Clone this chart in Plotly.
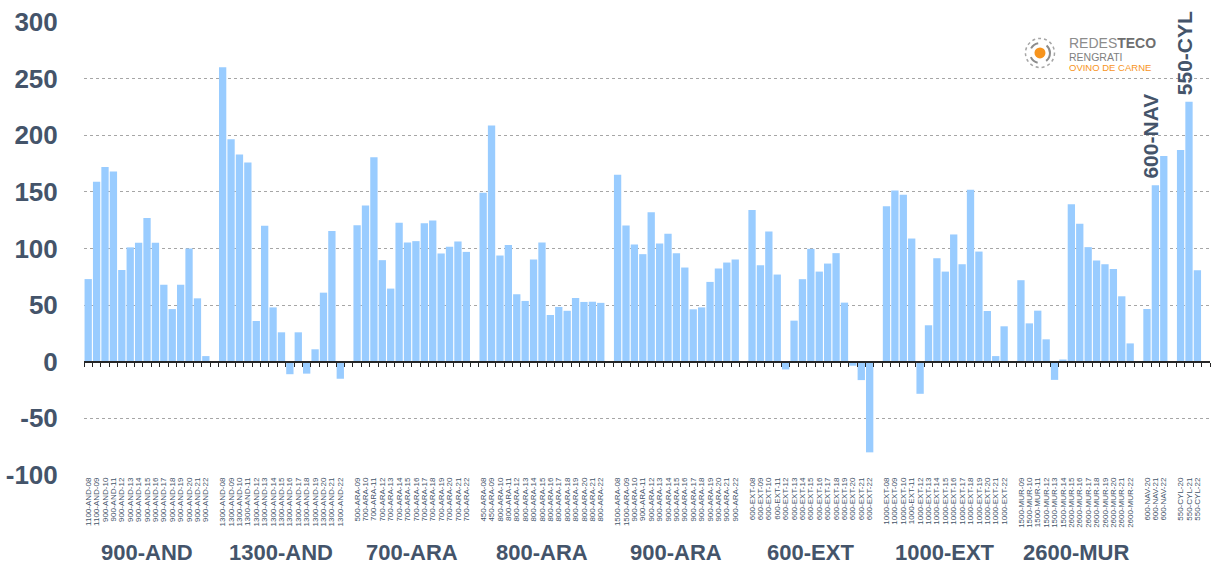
import plotly.graph_objects as go

# Categories (tick labels) per group
and900_labels = ["1100-AND-08", "1100-AND-09"] + [f"900-AND-{n}" for n in range(10, 23)]
and1300_labels = [f"1300-AND-{n:02d}" for n in range(8, 23)]
ara700_labels = ["500-ARA-09"] + [f"700-ARA-{n}" for n in range(10, 23)]
ara800_labels = ["450-ARA-08", "450-ARA-09"] + [f"800-ARA-{n}" for n in range(10, 23)]
ara900_labels = ["1500-ARA-08", "1500-ARA-09"] + [f"900-ARA-{n}" for n in range(10, 23)]
ext600_labels = [f"600-EXT-{n:02d}" for n in range(8, 23)]
ext1000_labels = [f"1000-EXT-{n:02d}" for n in range(8, 23)]
mur_labels = [f"1500-MUR-{n:02d}" for n in range(9, 15)] + [f"2600-MUR-{n}" for n in range(15, 23)]
nav600_labels = ["600-NAV-20", "600-NAV-21", "600-NAV-22"]
cyl550_labels = ["550-CYL-20", "550-CYL-21", "550-CYL-22"]

# Values
and900 = [73, 159, 172, 168, 81, 101, 105, 127, 105, 68, 46.5, 68, 100, 56, 5]
and1300 = [260, 196.5, 183, 176, 36, 120, 48, 26, -11, 26, -10.5, 11, 61, 115.5, -15]
ara700 = [120.5, 138, 180.5, 89.7, 64.6, 122.7, 105.3, 106.5, 122.4, 124.8, 95.6, 101.5, 106.2, 97]
ara800 = [149.3, 208.6, 93.8, 103, 59.6, 53.7, 90.3, 105.3, 41.3, 48.4, 45, 56.3, 52.8, 53, 52]
ara900 = [165.2, 120.4, 103.5, 95, 131.9, 104.4, 113, 95.9, 83.2, 46.3, 48, 70.5, 82.3, 87.6, 90.3]
ext600 = [134, 85.3, 115, 77, -6.8, 36.3, 72.9, 99.7, 79.6, 86.7, 95.9, 52.2, -3.5, -16.2, -80]
ext1000 = [137.2, 151.3, 147.5, 108.8, -28.3, 32.2, 91.4, 79.6, 112.4, 86.1, 151.9, 97.3, 44.8, 5, 31.3]
mur = [72, 33.9, 45.1, 19.8, -16, 2, 139, 121.8, 101.2, 89.4, 86.1, 82, 57.8, 16.2]
nav600 = [46.6, 155.8, 181.7]
cyl550 = [187, 229.5, 80.8]

group_names = ["900-AND", "1300-AND", "700-ARA", "800-ARA", "900-ARA",
               "600-EXT", "1000-EXT", "2600-MUR", "600-NAV", "550-CYL"]
bottom_label = [True] * 8 + [False, False]

y_ticks = [-100, -50, 0, 50, 100, 150, 200, 250, 300]
y_ticktext = ["-100", "-50", "0", "50", "100", "150", "200", "250", "300"]

groups = [
    (and900_labels, and900), (and1300_labels, and1300), (ara700_labels, ara700),
    (ara800_labels, ara800), (ara900_labels, ara900), (ext600_labels, ext600),
    (ext1000_labels, ext1000), (mur_labels, mur), (nav600_labels, nav600),
    (cyl550_labels, cyl550),
]

TXT = "#44546A"
FONT = "Arial, Liberation Sans, sans-serif"

xs, ys, labels = [], [], []
centers = []
pos = 0
for lab, val in groups:
    start = pos
    for l, v in zip(lab, val):
        xs.append(pos)
        ys.append(v)
        labels.append(l)
        pos += 1
    centers.append((start, pos - 1))
    pos += 1  # empty slot between groups
n_slots = pos - 1

fig = go.Figure()
fig.add_trace(go.Bar(x=xs, y=ys, marker=dict(color="#99CCFF", line=dict(width=0)),
                     hoverinfo="x+y"))
# invisible copy so the overlaid zero-line axis gets drawn
fig.add_trace(go.Bar(x=xs, y=ys, xaxis="x2", marker=dict(color="rgba(0,0,0,0)", line=dict(width=0)),
                     hoverinfo="skip"))

annotations = []
for name, show, (a, b), (lab, val) in zip(group_names, bottom_label, centers, groups):
    if show:
        annotations.append(dict(x=(a + b) / 2, y=-0.172, xref="x", yref="paper",
                                text=name, showarrow=False, yanchor="middle",
                                font=dict(family=FONT, size=22, color=TXT, weight="bold")))
    else:
        mid = (a + b) // 2
        annotations.append(dict(x=mid - 0.55, y=val[1], xref="x", yref="y",
                                text=name, showarrow=False, textangle=-90,
                                yanchor="bottom", xanchor="center", yshift=5,
                                font=dict(family=FONT, size=21, color=TXT, weight="bold")))

# logo text
annotations += [
    dict(x=0.873, y=0.9536, xref="paper", yref="paper", xanchor="left", yanchor="middle",
         showarrow=False, text="<span style='color:#8C8C8C'>REDES</span><b>TECO</b>",
         font=dict(family=FONT, size=14, color="#6E6E6E")),
    dict(x=0.873, y=0.9238, xref="paper", yref="paper", xanchor="left", yanchor="middle",
         showarrow=False, text="RENGRATI", font=dict(family=FONT, size=10.5, color="#7F7F7F")),
    dict(x=0.873, y=0.8996, xref="paper", yref="paper", xanchor="left", yanchor="middle",
         showarrow=False, text="OVINO DE CARNE", font=dict(family=FONT, size=9.5, color="#F7941D")),
]

logo_x, logo_y = 0.849, 0.9316
shapes = [
    dict(type="circle", xref="paper", yref="paper", xsizemode="pixel", ysizemode="pixel",
         xanchor=logo_x, yanchor=logo_y, x0=-5.5, x1=5.5, y0=-5.5, y1=5.5,
         fillcolor="#F7941D", line=dict(width=0)),
    dict(type="circle", xref="paper", yref="paper", xsizemode="pixel", ysizemode="pixel",
         xanchor=logo_x, yanchor=logo_y, x0=-10, x1=10, y0=-10, y1=10,
         line=dict(color="#8C8C8C", width=2, dash="dash")),
    dict(type="circle", xref="paper", yref="paper", xsizemode="pixel", ysizemode="pixel",
         xanchor=logo_x, yanchor=logo_y, x0=-14.5, x1=14.5, y0=-14.5, y1=14.5,
         line=dict(color="#A6A6A6", width=1.5, dash="dot")),
]

fig.update_layout(
    width=1215, height=566,
    margin=dict(l=84, r=5, t=22, b=91),
    plot_bgcolor="white", paper_bgcolor="white",
    bargap=0.13, showlegend=False,
    annotations=annotations, shapes=shapes,
    xaxis=dict(range=[-0.5, n_slots + 0.5], tickmode="array", tickvals=xs, ticktext=labels,
               tickangle=-90, tickfont=dict(family=FONT, size=8, color=TXT), automargin=False,
               showgrid=False, zeroline=False, showline=False, ticks=""),
    xaxis2=dict(range=[-0.5, n_slots + 0.5], overlaying="x", anchor="free", position=0.25,
                showline=True, linecolor="#262626", linewidth=1.5, automargin=False,
                ticks="outside", ticklen=4, tickcolor="#262626", tickwidth=1,
                tickmode="linear", tick0=-0.5, dtick=1, showticklabels=False,
                showgrid=False, zeroline=False),
    yaxis=dict(range=[-100, 300], tickmode="array", tickvals=y_ticks, ticktext=y_ticktext,
               showgrid=True, gridcolor="#A6A6A6", automargin=False,
               griddash="dot", gridwidth=1, zeroline=False,
               tickfont=dict(family=FONT, size=26, color=TXT, weight="bold"),
               ticks="outside", ticklen=0, ticklabelstandoff=20),
)

fig.write_html("out.html", config={"displayModeBar": False},
               post_script="document.body.style.margin='0';")
